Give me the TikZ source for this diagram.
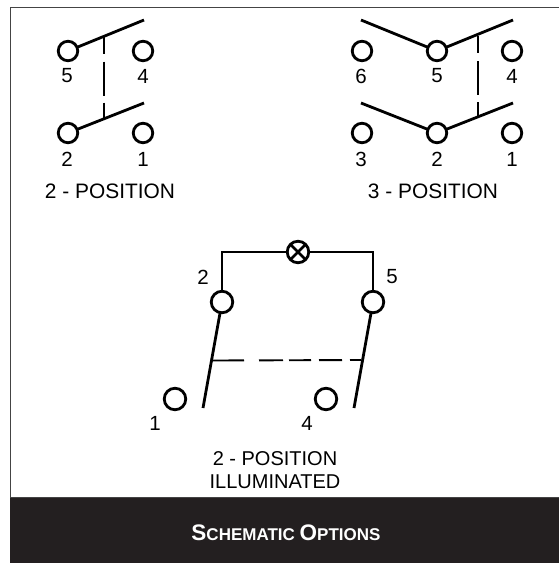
\documentclass[tikz,border=0pt]{standalone}
\usepackage{fontspec}
\setmainfont{Liberation Sans}
\definecolor{bandgray}{HTML}{231F20}
\definecolor{rulegray}{HTML}{444444}
\newcommand{\bigsc}[1]{{\fontsize{22.5}{24}\selectfont #1}}
\newcommand{\smallsc}[1]{{\fontsize{17}{24}\selectfont #1}}
\tikzset{
  terminal/.style={circle,draw,line width=2.8pt,minimum size=19.5pt,inner sep=0pt,outer sep=0pt},
  bigterminal/.style={terminal,minimum size=21.5pt},
  lever/.style={line width=2.8pt},
  pinlabel/.style={font=\fontsize{20.5}{22}\selectfont,inner sep=0pt},
  caption/.style={font=\fontsize{20.9}{24}\selectfont,inner sep=0pt,align=center},
}
\begin{document}
\begin{tikzpicture}[x=1pt,y=-1pt]
\useasboundingbox (0,0) rectangle (559,563);
\fill[bandgray] (10,497) rectangle (559,563);
\draw[rulegray,line width=1.8pt] (559,7.5) -- (10.5,7.5) -- (10.5,497.5) -- (559,497.5);

% 2 - position
\node[terminal] (a5) at (68,51) {};
\node[terminal] (a4) at (143,51) {};
\node[terminal] (a2) at (68,133) {};
\node[terminal] (a1) at (143,133) {};
\coordinate (a5tip) at (144,20);
\coordinate (a2tip) at (144,103);
\coordinate (a5link) at (104,36.5);
\coordinate (a2link) at (104,118.5);
\draw[lever] (a5) -- (a5tip);
\draw[lever] (a2) -- (a2tip);
\draw[lever,dash pattern=on 17pt off 8pt on 34pt off 7pt on 16pt off 40pt] (a5link) -- (a2link);
\node[pinlabel] (a5txt) at (67,76) {5};
\node[pinlabel] (a4txt) at (143,76) {4};
\node[pinlabel] (a2txt) at (67,159) {2};
\node[pinlabel] (a1txt) at (143,159) {1};
\node[caption] (atxt) at (110,191) {2 - POSITION};

% 3 - position
\node[terminal] (b6) at (362,51) {};
\node[terminal] (b5) at (437,51) {};
\node[terminal] (b4) at (512,51) {};
\node[terminal] (b3) at (362,133) {};
\node[terminal] (b2) at (437,133) {};
\node[terminal] (b1) at (512,133) {};
\coordinate (b5left) at (361,20);
\coordinate (b5right) at (513,20);
\coordinate (b2left) at (361,103);
\coordinate (b2right) at (513,103);
\coordinate (b5link) at (478,36);
\coordinate (b2link) at (478,118);
\draw[lever] (b5) -- (b5left);
\draw[lever] (b5) -- (b5right);
\draw[lever] (b2) -- (b2left);
\draw[lever] (b2) -- (b2right);
\draw[lever,dash pattern=on 17pt off 8pt on 34pt off 7pt on 16pt off 40pt] (b5link) -- (b2link);
\node[pinlabel] (b6txt) at (361,76) {6};
\node[pinlabel] (b5txt) at (437,76) {5};
\node[pinlabel] (b4txt) at (512,76) {4};
\node[pinlabel] (b3txt) at (361,159) {3};
\node[pinlabel] (b2txt) at (437,159) {2};
\node[pinlabel] (b1txt) at (512,159) {1};
\node[caption] (btxt) at (433,191) {3 - POSITION};

% 2 - position illuminated
\node[bigterminal] (c2) at (222,302) {};
\node[bigterminal] (c5) at (373,302) {};
\node[bigterminal] (c1) at (175,399) {};
\node[bigterminal] (c4) at (326,399) {};
\node[bigterminal] (lamp) at (298,252) {};
\draw[lever] (lamp.45) -- (lamp.225);
\draw[lever] (lamp.135) -- (lamp.315);
\draw[lever] (c2) |- (lamp);
\draw[lever] (c5) |- (lamp);
\coordinate (c2tip) at (203,408);
\coordinate (c5tip) at (354,408);
\coordinate (c2link) at (212,360.5);
\coordinate (c5link) at (362,360);
\draw[lever] (c2) -- (c2tip);
\draw[lever] (c5) -- (c5tip);
\draw[line width=1.9pt,dash pattern=on 32pt off 15pt on 24pt off 6pt on 22pt off 8pt on 23pt off 8pt on 11pt off 30pt] (c2link) -- (c5link);
\node[pinlabel] (c2txt) at (203,277) {2};
\node[pinlabel] (c5txt) at (392,277) {5};
\node[pinlabel] (c1txt) at (155,423) {1};
\node[pinlabel] (c4txt) at (307,423) {4};
\node[caption,font=\fontsize{20}{24}\selectfont] (ctxt) at (275,470) {2 - POSITION\\[-0.5pt]ILLUMINATED};

\node[white,inner sep=0pt,font=\bfseries] (title) at (286,533) {\bigsc{S}\smallsc{CHEMATIC}\hspace{2pt} \bigsc{O}\smallsc{PTIONS}};
\end{tikzpicture}
\end{document}
